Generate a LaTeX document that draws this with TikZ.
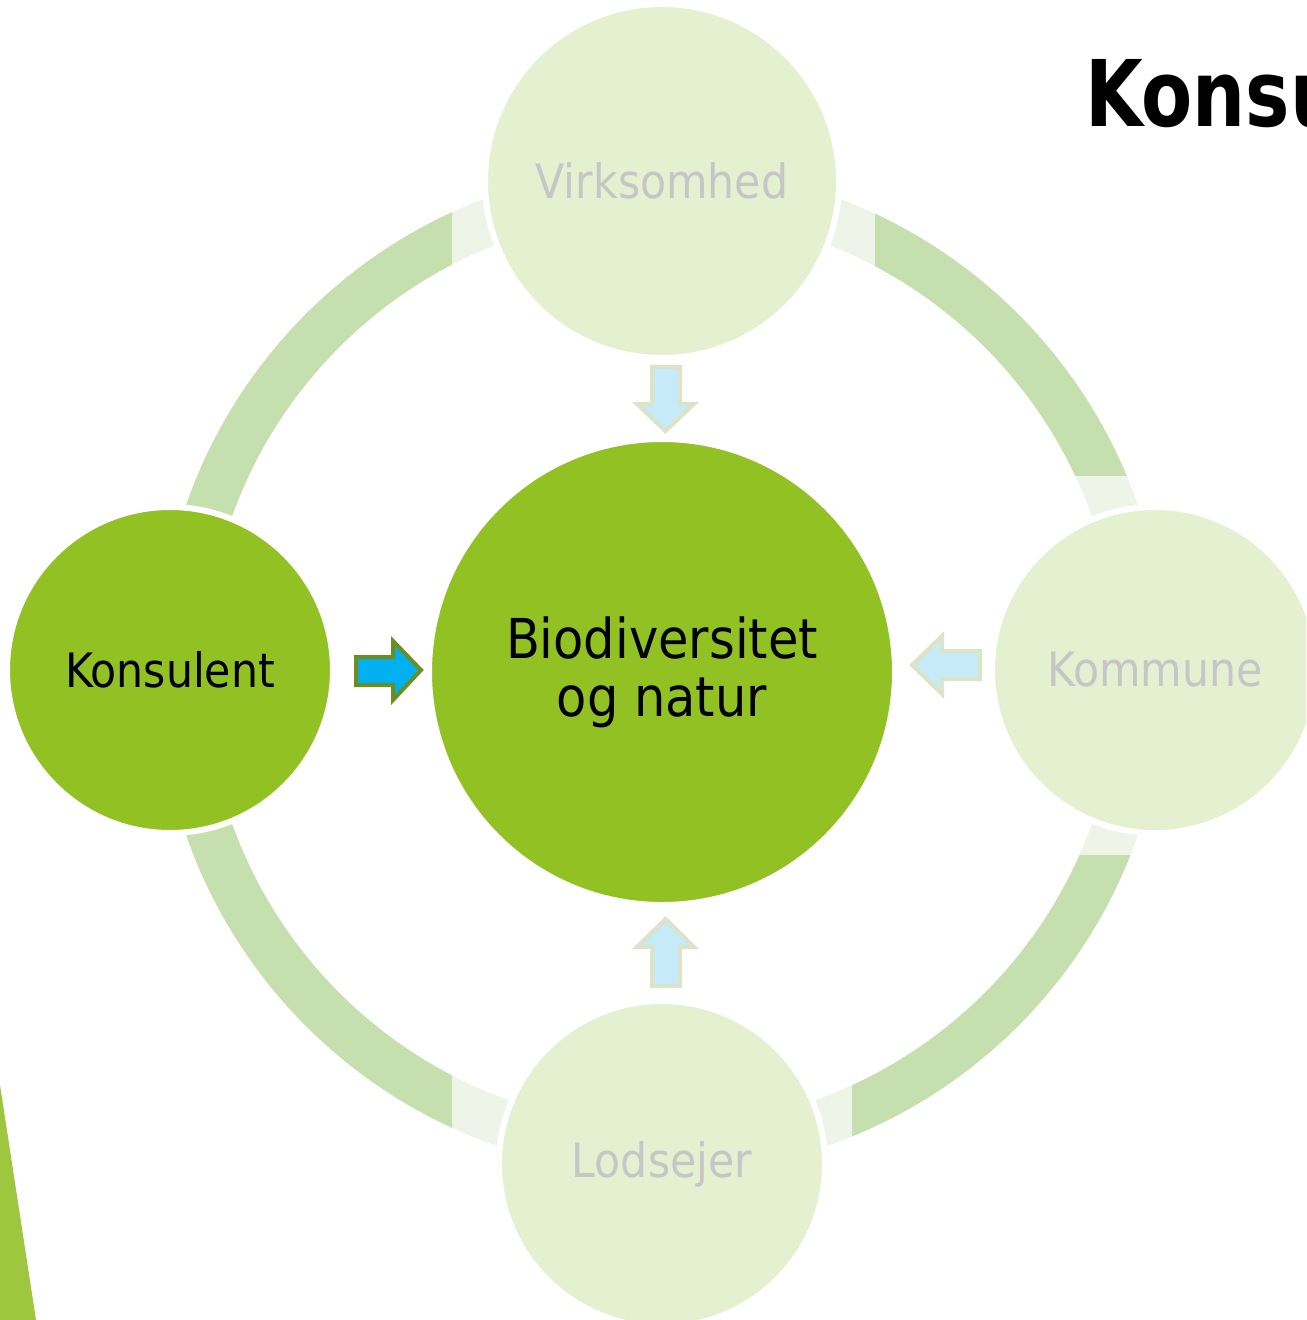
\documentclass[tikz,border=0pt]{standalone}
\usepackage{fontspec}
\setmainfont{DejaVu Sans Condensed}
\definecolor{ringdark}{HTML}{C5DFAE}
\definecolor{ringlight}{HTML}{EEF5E8}
\definecolor{maingreen}{HTML}{92C123}
\definecolor{fadegreen}{HTML}{E4F0CF}
\definecolor{fadetext}{HTML}{C6C6C6}
\definecolor{arrowfill}{HTML}{C6EAF8}
\definecolor{arrowline}{HTML}{DCE3C8}
\definecolor{activefill}{HTML}{00B0F0}
\definecolor{activeline}{HTML}{6B8E1F}
\definecolor{wedge}{HTML}{9EC63F}
\begin{document}
\begin{tikzpicture}[x=0.5pt,y=-0.5pt,
  ringstyle/.style={line width=23.5pt},
  circbase/.style={circle,draw=white,line width=3pt,inner sep=0pt,align=center},
  activec/.style={circbase,fill=maingreen,text=black},
  fadec/.style={circbase,fill=fadegreen,text=fadetext},
  fadearrow/.style={fill=arrowfill,draw=arrowline,line width=2pt,line join=miter},
  activearrow/.style={fill=activefill,draw=activeline,line width=2pt,line join=miter},
  nodefont/.style={font=\fontsize{23.7}{26}\selectfont},
  centerfont/.style={font=\fontsize{27.5}{29}\selectfont}]
\useasboundingbox (0,0) rectangle (1306,1320);
\clip (0,0) rectangle (1306,1320);
\fill[white] (0,0) rectangle (1306,1320);
% ring
\coordinate (ringc) at (662,670);
\draw[ringlight,ringstyle] (ringc) circle[radius=480];
\begin{scope}
  \clip (0,0) rectangle (452,1320);
  \draw[ringdark,ringstyle] (ringc) circle[radius=480];
\end{scope}
\begin{scope}
  \clip (875,0) rectangle (1306,475);
  \draw[ringdark,ringstyle] (ringc) circle[radius=480];
\end{scope}
\begin{scope}
  \clip (852,855) rectangle (1306,1320);
  \draw[ringdark,ringstyle] (ringc) circle[radius=480];
\end{scope}
% circles
\node[activec,centerfont,minimum size=233pt] (center) at (662,672) {Biodiversitet\\og natur};
\node[fadec,nodefont,minimum size=177pt] (virk) at (662,181) {Virksomhed};
\node[activec,nodefont,minimum size=163pt] (kons) at (170,670) {Konsulent};
\node[fadec,nodefont,minimum size=163pt] (komm) at (1155,670) {Kommune};
\node[fadec,nodefont,minimum size=163pt] (lods) at (662,1164) {Lodsejer};
% block arrows
\draw[fadearrow] (652,367) -- (680,367) -- (680,404) -- (694,404) -- (665.5,431) -- (637,404) -- (652,404) -- cycle;
\draw[activearrow] (356,657) -- (393,657) -- (393,641) -- (421,670) -- (393,700) -- (393,685) -- (356,685) -- cycle;
\draw[fadearrow] (980,651) -- (942,651) -- (942,636) -- (912,665) -- (942,694) -- (942,679) -- (980,679) -- cycle;
\draw[fadearrow] (652,986) -- (680,986) -- (680,947) -- (694,947) -- (665.5,919) -- (637,947) -- (652,947) -- cycle;
% decorative wedge
\fill[wedge] (0,1085) -- (36,1320) -- (0,1320) -- cycle;
% title
\node[anchor=base west,inner sep=0pt,xscale=0.9,font=\bfseries\fontsize{46}{48}\selectfont] (title) at (1085,127) {Konsu};
\end{tikzpicture}
\end{document}
